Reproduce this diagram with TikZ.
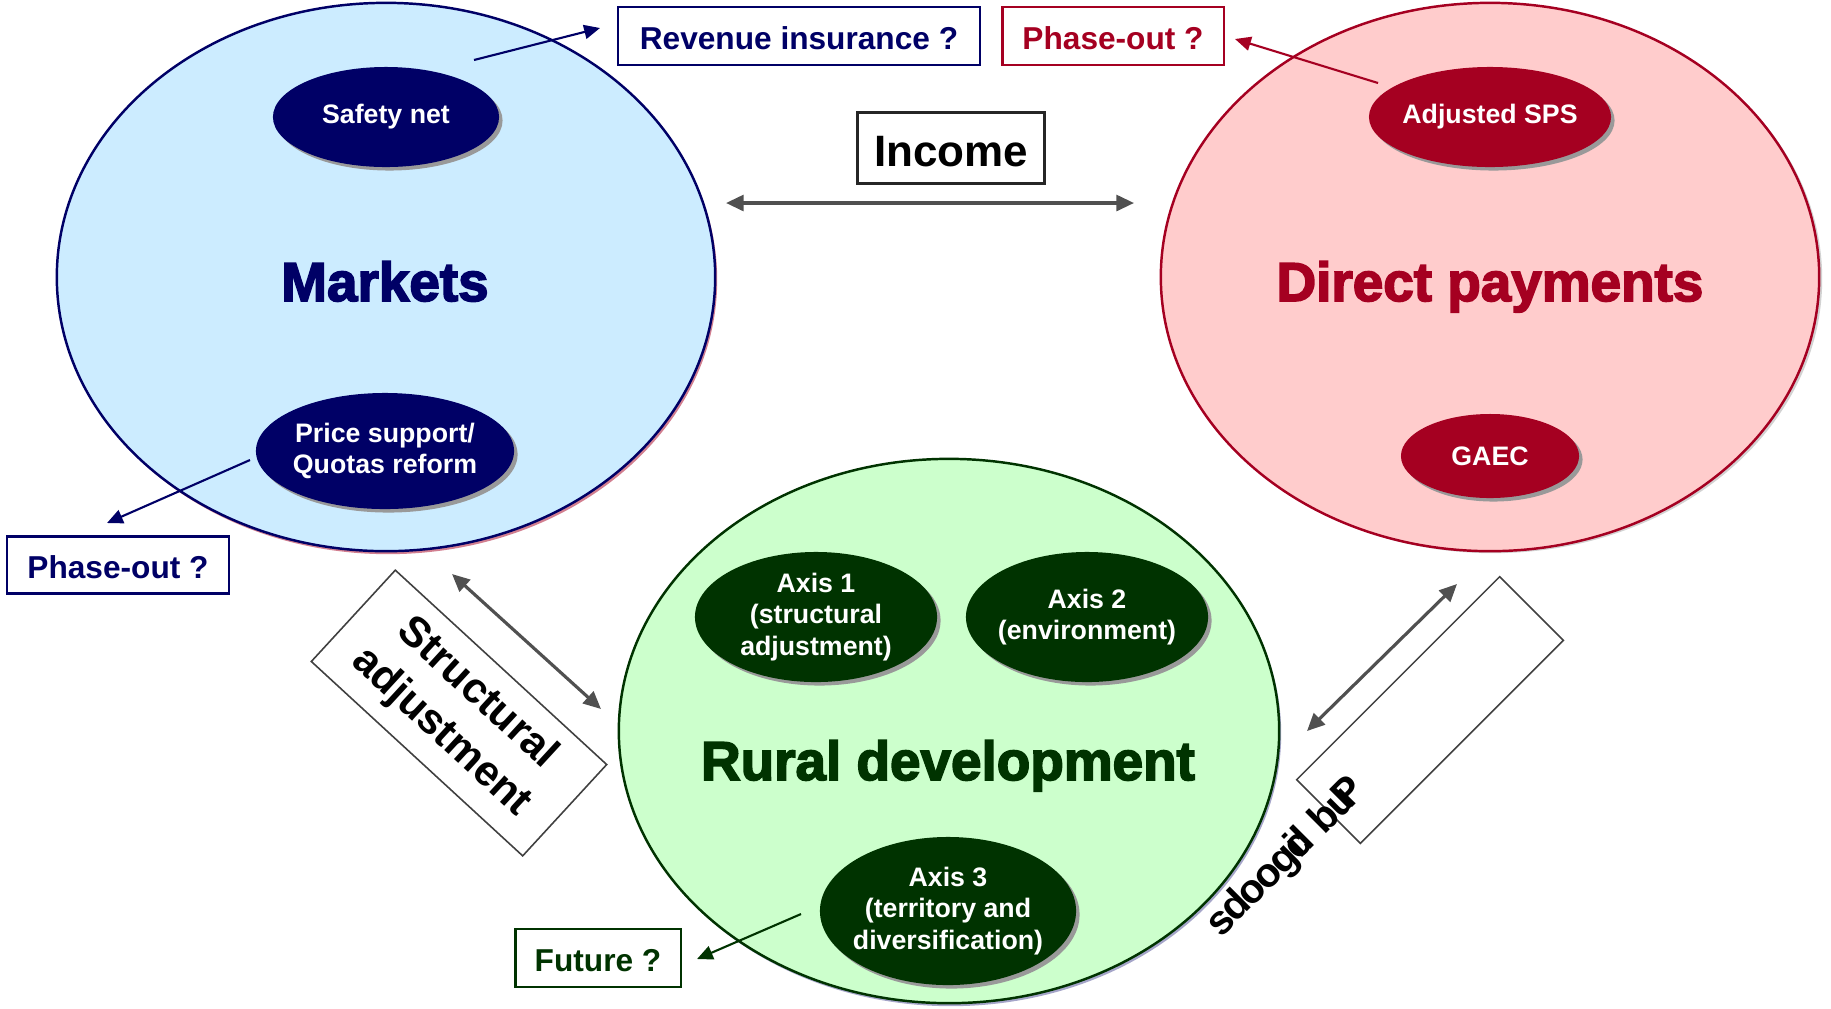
\documentclass[tikz,border=0pt]{standalone}
\usepackage{fontspec}
\setmainfont{Liberation Sans}
\newfontfamily\heavyfont{Liberation Sans}[BoldFeatures={FakeBold=3}]
\usetikzlibrary{shapes.geometric,arrows.meta,shadows}

\definecolor{navy}{RGB}{0,0,102}
\definecolor{lightblue}{RGB}{204,236,255}
\definecolor{wine}{RGB}{165,0,33}
\definecolor{lightpink}{RGB}{255,204,204}
\definecolor{darkgreen}{RGB}{0,51,0}
\definecolor{lightgreen}{RGB}{204,255,204}
\definecolor{arrowgray}{RGB}{80,80,80}

\tikzset{
  pillar/.style={ellipse,line width=0.7pt,inner sep=0pt,outer sep=0pt},
  pillartitle/.style={anchor=base,font=\fontsize{15.6}{18}\selectfont\heavyfont\bfseries},
  measure/.style={ellipse,inner sep=-3pt,outer sep=0pt,text=white,align=center,
    font=\fontsize{7.6}{9}\selectfont\bfseries,
    drop shadow={shadow xshift=0.035cm,shadow yshift=-0.035cm,fill=black!40,opacity=1}},
  question/.style={draw,line width=0.6pt,fill=white,inner sep=0pt,text height=7.9pt,text depth=0pt,
    font=\fontsize{9}{11}\selectfont\bfseries},
  tiltbox/.style={draw=black!75,line width=0.45pt,inner sep=0pt,align=center,
    font=\fontsize{12.1}{15}\selectfont\bfseries},
  linkarrow/.style={line width=0.9pt,draw=arrowgray,
    {Triangle[length=5pt,width=4.5pt]}-{Triangle[length=5pt,width=4.5pt]}},
  outarrow/.style={line width=0.6pt,-{Triangle[length=4.5pt,width=4pt]}},
}

\begin{document}
\begin{tikzpicture}[x=0.01cm,y=-0.01cm]
%\draw[step=1cm,gray,very thin] (0,0) grid (1831,1008); %background grid
\useasboundingbox (0,0) rectangle (1831,1008);

% the three pillars
\node[pillar,draw=navy,fill=lightblue,minimum width=6.58cm,minimum height=5.48cm,
  drop shadow={shadow xshift=0.02cm,shadow yshift=-0.03cm,fill=wine}] (mkt) at (386,277) {};
\node[pillar,draw=wine,fill=lightpink,minimum width=6.58cm,minimum height=5.48cm,
  drop shadow={shadow xshift=0.03cm,shadow yshift=-0.02cm,fill=black!35}] (dp) at (1490,277) {};
\node[pillar,draw=darkgreen,fill=lightgreen,minimum width=6.6cm,minimum height=5.44cm,
  drop shadow={shadow xshift=0.02cm,shadow yshift=-0.03cm,fill=navy!70}] (rd) at (949,731) {};

\node[pillartitle,text=navy] (mkt-title) at (385,301) {Markets};
\node[pillartitle,text=wine] (dp-title) at (1490,301) {Direct payments};
\node[pillartitle,text=darkgreen] (rd-title) at (948,780) {Rural development};

% measures inside the pillars
\node[measure,fill=navy,minimum width=2.26cm,minimum height=1cm] (safety) at (386,117) {Safety net};
\node[measure,fill=navy,minimum width=2.58cm,minimum height=1.16cm] (price) at (385,451) {Price support/\\Quotas reform};
\node[measure,fill=wine,minimum width=2.42cm,minimum height=1cm] (sps) at (1490,117) {Adjusted SPS};
\node[measure,fill=wine,minimum width=1.78cm,minimum height=0.84cm] (gaec) at (1490,456) {GAEC};
\node[measure,fill=darkgreen,minimum width=2.42cm,minimum height=1.3cm] (axis1) at (816,617) {Axis 1\\(structural\\adjustment)};
\node[measure,fill=darkgreen,minimum width=2.42cm,minimum height=1.3cm] (axis2) at (1087,617) {Axis 2\\(environment)};
\node[measure,fill=darkgreen,minimum width=2.56cm,minimum height=1.48cm] (axis3) at (948,911) {Axis 3\\(territory and\\diversification)};

% open questions
\node[question,draw=navy,text=navy,minimum width=3.62cm,minimum height=0.58cm] (revenue) at (799,36) {Revenue insurance ?};
\node[question,draw=wine,text=wine,minimum width=2.21cm,minimum height=0.58cm] (dp-phase) at (1113,36) {Phase-out ?};
\node[question,draw=navy,text=navy,minimum width=2.21cm,minimum height=0.57cm] (mkt-phase) at (118,565) {Phase-out ?};
\node[question,draw=darkgreen,text=darkgreen,minimum width=1.65cm,minimum height=0.58cm] (future) at (598,958) {Future ?};

\node[draw=black!85,line width=0.7pt,inner sep=0pt,minimum width=1.87cm,minimum height=0.71cm,
  text height=10.4pt,text depth=0pt,font=\fontsize{12.5}{15}\selectfont\bfseries] (income) at (951,148) {Income};

% tilted boxes between the pillars
\node[tiltbox,rotate=-42.6,minimum width=2.87cm,minimum height=1.24cm] (struct) at (459,713) {Structural\\adjustment};
\node[tiltbox,rotate=45,minimum width=2.87cm,minimum height=0.9cm] (public) at (1430,710) {};
\node[rotate=45,font=\fontsize{11.6}{14}\selectfont\bfseries] (public-text) at (1287,858)
  {s\kern-0.8pt d\kern-0.8pt o\kern-0.8pt o\kern-0.6pt g\kern-1pt c\kern-5.5pt i\kern-0.3pt l\ b\kern-0.6pt u\kern-4pt P};

% arrow ends
\coordinate (inc-l) at (726,203);
\coordinate (inc-r) at (1134,203);
\coordinate (sa-a) at (452,574);
\coordinate (sa-b) at (601,709);
\coordinate (pg-a) at (1457,584);
\coordinate (pg-b) at (1307,731);
\coordinate (safety-out) at (474,60);
\coordinate (revenue-in) at (600,28);
\coordinate (sps-out) at (1378,83);
\coordinate (dp-phase-in) at (1235,39);
\coordinate (price-out) at (250,460);
\coordinate (mkt-phase-in) at (107,523);
\coordinate (axis3-out) at (801,914);
\coordinate (future-in) at (697,959);

\draw[linkarrow] (inc-l) -- (inc-r);
\draw[linkarrow] (sa-a) -- (sa-b);
\draw[linkarrow] (pg-a) -- (pg-b);

\draw[outarrow,navy] (safety-out) -- (revenue-in);
\draw[outarrow,wine] (sps-out) -- (dp-phase-in);
\draw[outarrow,navy] (price-out) -- (mkt-phase-in);
\draw[outarrow,darkgreen] (axis3-out) -- (future-in);

\end{tikzpicture}
\end{document}
